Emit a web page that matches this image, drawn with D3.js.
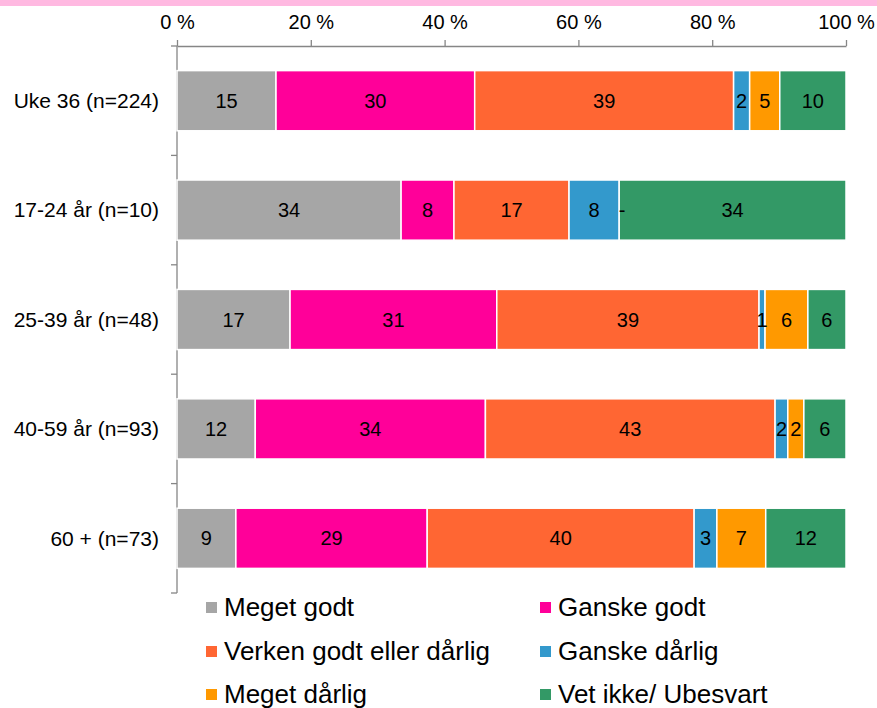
<!DOCTYPE html>
<html>
<head>
<meta charset="utf-8">
<script src="https://cdn.jsdelivr.net/npm/d3@7"></script>
<style>
  body { margin: 0; background: #fff; }
  text { font-family: "Liberation Sans", Arial, sans-serif; fill: #000; }
</style>
</head>
<body>
<div id="chart"></div>
<script>
// categories (top to bottom) and answer series
const groups = ["Uke 36 (n=224)", "17-24 år (n=10)", "25-39 år (n=48)", "40-59 år (n=93)", "60 + (n=73)"];
const series = ["Meget godt", "Ganske godt", "Verken godt eller dårlig", "Ganske dårlig", "Meget dårlig", "Vet ikke/ Ubesvart"];
const colors = ["#a6a6a6", "#ff0099", "#ff6633", "#3399cc", "#ff9900", "#339966"];

// percentages per series, one value per group
const megetGodt   = [14.8, 33.5, 16.9, 11.7, 8.8];
const ganskeGodt  = [29.7, 7.9, 30.9, 34.4, 28.6];
const verken      = [38.7, 17.2, 39.2, 43.3, 39.9];
const ganskeDarl  = [2.4, 7.5, 0.9, 1.9, 3.4];
const megetDarl   = [4.5, 0, 6.4, 2.4, 7.3];
const vetIkke     = [9.9, 33.9, 5.7, 6.3, 12.0];
const tickValues = [0, 20, 40, 60, 80, 100];

const values = [megetGodt, ganskeGodt, verken, ganskeDarl, megetDarl, vetIkke];

const width = 877, height = 708;
const svg = d3.select("#chart").append("svg").attr("width", width).attr("height", height);

// pink band on top
svg.append("rect").attr("x", 0).attr("y", 0).attr("width", width).attr("height", 6).attr("fill", "#ffb9e1");

const plotTop = 46, plotBottom = 593;
const x = d3.scaleLinear().domain([0, 100]).range([177, 846]);
const y = d3.scaleBand().domain(groups).range([plotTop, plotBottom]).paddingInner(0.45).paddingOuter(0.225);

let table = groups.map((g, i) => {
  let row = { group: g };
  series.forEach((s, k) => row[s] = values[k][i]);
  return row;
});
let stacked = d3.stack().keys(series)(table);

// top axis
let xAxis = svg.append("g")
  .attr("transform", `translate(0,${plotTop})`)
  .call(d3.axisTop(x).tickValues(tickValues).tickFormat(d => d + " %").tickSize(6).tickSizeOuter(0));
xAxis.select(".domain").attr("stroke", "#868686").attr("stroke-width", 1.3);
xAxis.selectAll(".tick line").attr("stroke", "#868686").attr("stroke-width", 1.3);
xAxis.selectAll(".tick text").attr("font-size", 20).attr("y", -17).attr("dy", 0)
  .attr("font-family", "Liberation Sans, Arial, sans-serif").attr("fill", "#000");

// left axis: boundaries between groups
let bounds = [plotTop].concat(groups.map(g => y(g) + y.bandwidth() + y.step() * y.paddingInner() / 2));
bounds[bounds.length - 1] = plotBottom;
let yAxis = svg.append("g");
yAxis.append("line").attr("x1", 177).attr("x2", 177).attr("y1", plotTop).attr("y2", plotBottom)
  .attr("stroke", "#868686").attr("stroke-width", 1.3);
yAxis.selectAll(".yt").data(bounds).join("line")
  .attr("x1", 171).attr("x2", 177).attr("y1", d => d).attr("y2", d => d)
  .attr("stroke", "#868686").attr("stroke-width", 1.3);

// group labels
svg.selectAll(".glabel").data(groups).join("text")
  .attr("x", 159).attr("y", d => y(d) + y.bandwidth() / 2).attr("dy", "0.35em")
  .attr("text-anchor", "end").attr("font-size", 21).text(d => d);

// bars
let layer = svg.selectAll(".layer").data(stacked).join("g")
  .attr("fill", (d, i) => colors[i]);
layer.selectAll("rect").data(d => d).join("rect")
  .attr("x", d => x(d[0])).attr("width", d => x(d[1]) - x(d[0]))
  .attr("y", d => y(d.data.group)).attr("height", y.bandwidth())
  .attr("stroke", "#fff").attr("stroke-width", 1.5);

// value labels
stacked.forEach(s => {
  svg.selectAll(null).data(s).join("text")
    .attr("x", d => d[1] - d[0] > 0 ? (x(d[0]) + x(d[1])) / 2 : x(d[0]) + 3)
    .attr("y", d => y(d.data.group) + y.bandwidth() / 2).attr("dy", "0.35em")
    .attr("text-anchor", "middle").attr("font-size", 20)
    .text(d => d[1] - d[0] > 0 ? Math.round(d[1] - d[0]) : "-");
});

// legend
const legX = [206, 540], legY = [607, 651, 694];
let leg = svg.selectAll(".leg").data(series).join("g")
  .attr("transform", (d, i) => `translate(${legX[i % 2]},${legY[Math.floor(i / 2)]})`);
leg.append("rect").attr("x", 0).attr("y", -5).attr("width", 11).attr("height", 11)
  .attr("fill", (d, i) => colors[i]);
leg.append("text").attr("x", 18).attr("dy", "0.36em").attr("font-size", 26).text(d => d);
</script>
</body>
</html>
